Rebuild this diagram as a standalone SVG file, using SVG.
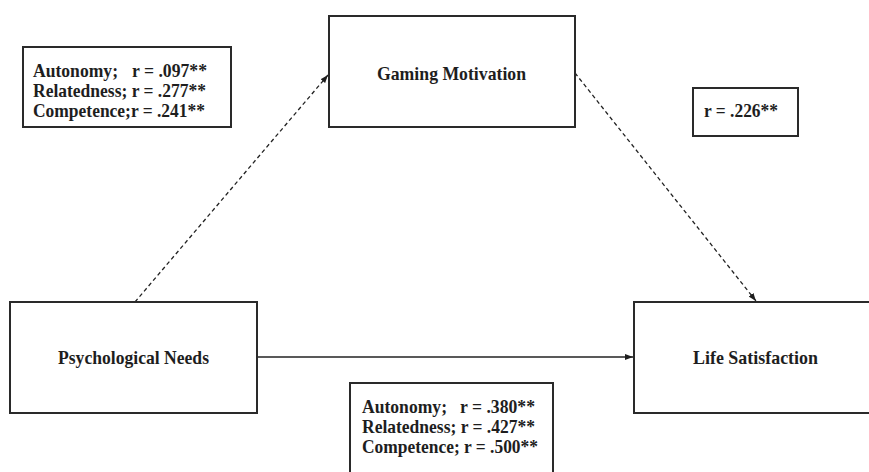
<svg xmlns="http://www.w3.org/2000/svg" width="869" height="472" viewBox="0 0 869 472">
<defs>
<style>
.box{fill:#fff;stroke:#2a2a2a;stroke-width:2}
.t{font-family:"Liberation Serif","Times New Roman",serif;font-weight:bold;font-size:19.5px;fill:#1e1e1e}
.c{text-anchor:middle}
.ln{stroke:#222;stroke-width:1.3;fill:none}
.dash{stroke-dasharray:4 3}
</style>
<marker id="ah" markerWidth="8" markerHeight="6" refX="8" refY="3" orient="auto" markerUnits="userSpaceOnUse">
<path d="M0,0 L8,3 L0,6 Z" fill="#1e1e1e"/>
</marker>
</defs>
<rect width="869" height="472" fill="#fff"/>
<g id="connectors">
<line class="ln dash" x1="135" y1="302" x2="328" y2="75" marker-end="url(#ah)"/>
<line class="ln dash" x1="575" y1="73" x2="756" y2="301" marker-end="url(#ah)"/>
<line class="ln" x1="257" y1="357" x2="633" y2="357" marker-end="url(#ah)"/>
</g>
<g id="stats-top">
<rect class="box" x="23" y="47" width="208" height="80"/>
<text class="t" x="33" y="77"><tspan textLength="85" lengthAdjust="spacingAndGlyphs">Autonomy;</tspan><tspan x="132" textLength="75" lengthAdjust="spacingAndGlyphs">r = .097**</tspan></text>
<text class="t" x="33" y="97" textLength="173" lengthAdjust="spacingAndGlyphs">Relatedness; r = .277**</text>
<text class="t" x="33" y="117" textLength="172" lengthAdjust="spacingAndGlyphs">Competence;r = .241**</text>
</g>
<g id="gaming-motivation">
<rect class="box" x="329" y="16" width="246" height="111"/>
<text class="t" x="377" y="80" textLength="149" lengthAdjust="spacingAndGlyphs">Gaming Motivation</text>
</g>
<g id="stats-r">
<rect class="box" x="693" y="88" width="105" height="48"/>
<text class="t" x="704" y="117" textLength="74" lengthAdjust="spacingAndGlyphs">r = .226**</text>
</g>
<g id="psychological-needs">
<rect class="box" x="10" y="302" width="247" height="111"/>
<text class="t" x="58" y="364" textLength="151" lengthAdjust="spacingAndGlyphs">Psychological Needs</text>
</g>
<g id="life-satisfaction">
<rect class="box" x="634" y="302" width="246" height="111"/>
<text class="t" x="693" y="364" textLength="125" lengthAdjust="spacingAndGlyphs">Life Satisfaction</text>
</g>
<g id="stats-bottom">
<rect class="box" x="350" y="383" width="203" height="100"/>
<text class="t" x="362" y="413"><tspan textLength="85" lengthAdjust="spacingAndGlyphs">Autonomy;</tspan><tspan x="460" textLength="75" lengthAdjust="spacingAndGlyphs">r = .380**</tspan></text>
<text class="t" x="362" y="433" textLength="173" lengthAdjust="spacingAndGlyphs">Relatedness; r = .427**</text>
<text class="t" x="362" y="453" textLength="176" lengthAdjust="spacingAndGlyphs">Competence; r = .500**</text>
</g>
</svg>
